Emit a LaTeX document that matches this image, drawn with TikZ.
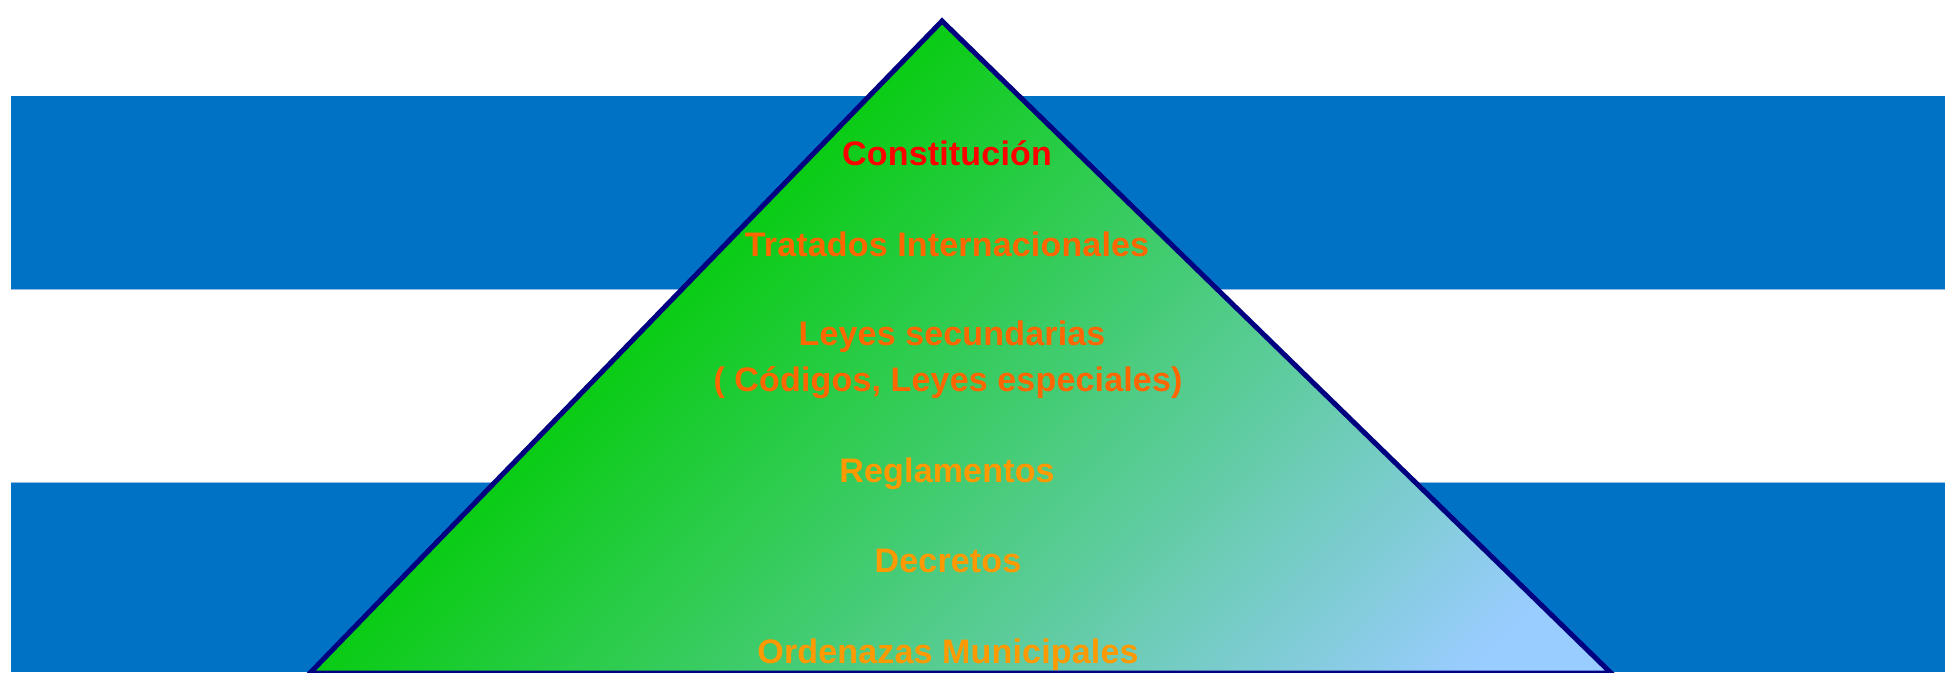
\documentclass[tikz,border=0pt]{standalone}
\usepackage{fontspec}
\setmainfont{Liberation Sans}[LetterSpace=0.5]
\definecolor{bandblue}{RGB}{0,114,198}
\definecolor{bandedge}{RGB}{150,185,232}
\definecolor{navy}{RGB}{0,0,128}
\definecolor{pgreen}{RGB}{10,204,20}
\definecolor{pblue}{RGB}{153,204,255}
\definecolor{tred}{RGB}{255,0,0}
\definecolor{torange}{RGB}{255,102,0}
\definecolor{tamber}{RGB}{255,153,0}
\tikzset{
  band/.style={fill=bandblue, draw=none},
  lvl/.style={font=\fontsize{34}{40}\selectfont\bfseries, anchor=base, inner sep=0pt},
}
\begin{document}
\begin{tikzpicture}[x=1pt,y=-1pt]
\useasboundingbox[fill=white] (0,0) rectangle (1945,672);
\path[band] (11,96) rectangle (1945,289);
\path[band] (11,483) rectangle (1945,672);
\draw[bandedge, line width=1.5] (11,289.5) -- (1945,289.5);
\draw[bandedge, line width=1.5] (11,482.5) -- (1945,482.5);
\coordinate (apex) at (942,21);
\coordinate (bl) at (310,673);
\coordinate (br) at (1611,673);
\begin{scope}
  \clip (apex) -- (br) -- (bl) -- cycle;
  \begin{scope}[transform canvas={rotate around={-44.1:(bl)}}]
    \fill[pgreen] (250,-280) rectangle (312,690);
    \fill[pblue] (1100,-280) rectangle (1280,690);
    \foreach \i in {0,...,137} {
      \pgfmathsetmacro\p{min(100,(\i+0.5)*6/830*100)}
      \fill[pblue!\p!pgreen] ({310+\i*6},-280) rectangle ({310+\i*6+7},690);
    }
  \end{scope}
\end{scope}
\draw[navy, line width=5, line join=miter] (apex) -- (br) -- (bl) -- cycle;
\node[lvl, text=tred] (c1) at (947,165) {Constitución};
\node[lvl, text=torange] (c2) at (947,256) {Tratados Internacionales};
\node[lvl, text=torange] (c3) at (952,345) {Leyes secundarias};
\node[lvl, text=torange] (c4) at (948,391) {( Códigos, Leyes especiales)};
\node[lvl, text=tamber] (c5) at (947,482) {Reglamentos};
\node[lvl, text=tamber] (c6) at (948,572) {Decretos};
\node[lvl, text=tamber] (c7) at (948,663) {Ordenazas Municipales};
\end{tikzpicture}
\end{document}
